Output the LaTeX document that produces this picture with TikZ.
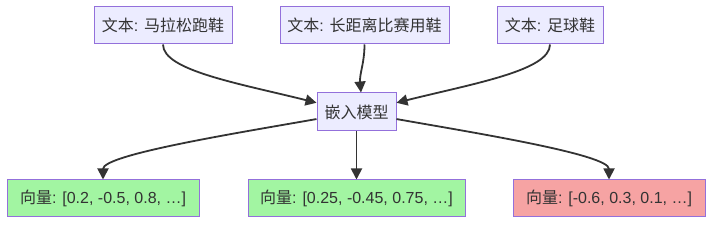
\documentclass[tikz,border=0pt]{standalone}
\usepackage{fontspec}
\setmainfont{Liberation Sans}
\newfontfamily\zhfont{Noto Sans CJK SC}
\newcommand\zh[1]{{\zhfont #1}}
\usetikzlibrary{arrows.meta}
\definecolor{boxfill}{HTML}{ECECFF}
\definecolor{boxline}{HTML}{9370DB}
\definecolor{vecgood}{HTML}{A2F5A2}
\definecolor{vecbad}{HTML}{F6A3A3}
\definecolor{linec}{HTML}{333333}
\tikzset{
  txtbox/.style={draw=boxline, fill=boxfill, line width=1pt, inner sep=0pt,
    minimum width=#1, minimum height=37pt, text=linec,
    font=\fontsize{16}{19}\selectfont},
  txtbox/.default=80pt,
  good/.style={fill=vecgood},
  bad/.style={fill=vecbad},
  flow/.style={draw=linec, line width=1.8pt, -{Triangle[length=11pt,width=11pt]}},
}

\begin{document}
\begin{tikzpicture}[x=1pt, y=1pt]
\useasboundingbox (0,0) rectangle (721,227);

% ===== input texts =====
\node[txtbox=138pt] (txt1) at (163,201.5)   {\zh{文本}: \zh{马拉松跑鞋}};
\node[txtbox=169pt] (txt2) at (364.5,201.5) {\zh{文本}: \zh{长距离比赛用鞋}};
\node[txtbox=106pt] (txt3) at (550,201.5)   {\zh{文本}: \zh{足球鞋}};

% ===== model =====
\node[txtbox=79pt, minimum height=38pt] (emb) at (356.5,115) {\zh{嵌入模型}};

% ===== output vectors =====
\node[txtbox=192pt, good] (vec1) at (103,28.5)   {\zh{向量}: [0.2, -0.5, 0.8, …]};
\node[txtbox=217pt, good] (vec2) at (356.5,28.5) {\zh{向量}: [0.25, -0.45, 0.75, …]};
\node[txtbox=192pt, bad]  (vec3) at (609,28.5)   {\zh{向量}: [-0.6, 0.3, 0.1, …]};

% ===== texts -> model =====
\draw[flow] (txt1.south) to[out=-90, in=166, out distance=26pt, in distance=80pt] (emb.167);
\draw[flow] (txt2.south) to[out=-90, in=95] (emb.77);
\draw[flow] (txt3.south) to[out=-90, in=14, out distance=26pt, in distance=80pt] (emb.13);

% ===== model -> vectors =====
\draw[flow] (emb.190) to[out=190, in=90, out distance=80pt, in distance=25pt] (vec1.north);
\draw[flow] (emb.south) -- (vec2.north);
\draw[flow] (emb.-10) to[out=-10, in=90, out distance=80pt, in distance=25pt] (vec3.north);

\end{tikzpicture}
\end{document}
